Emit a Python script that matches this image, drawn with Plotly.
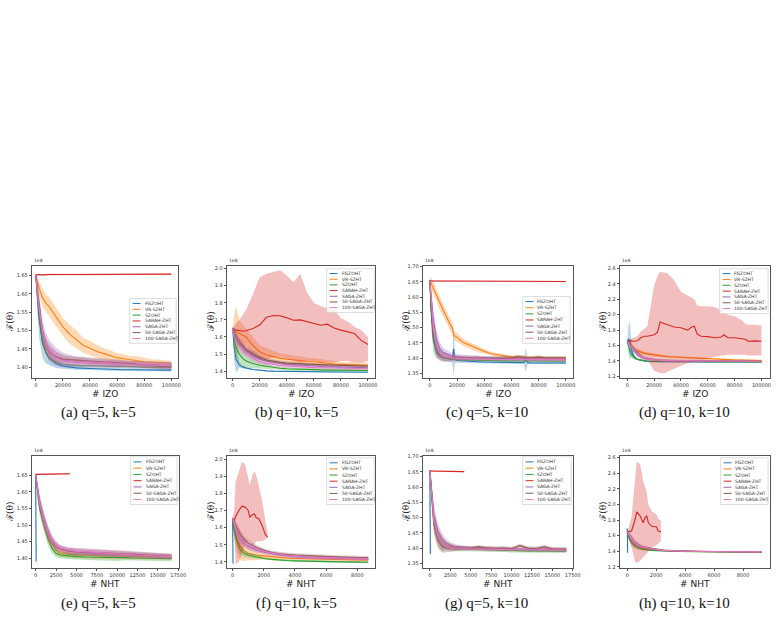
import plotly.graph_objects as go

W, H = 784, 621

NAMES = ["FGZOHT", "VR-SZHT", "SZOHT", "SARAH-ZHT", "SAGA-ZHT", "50-SAGA-ZHT", "100-SAGA-ZHT"]
COLORS = ["#1f77b4", "#ff7f0e", "#2ca02c", "#d62728", "#9467bd", "#8c564b", "#e377c2"]

# ---------------- tick labels ----------------
X_TICKS_IZO = [0, 20000, 40000, 60000, 80000, 100000]
X_TICKS_NHT_5 = [0, 2500, 5000, 7500, 10000, 12500, 15000, 17500]
X_TICKS_NHT_10 = [0, 2000, 4000, 6000, 8000]
Y_TICKS_A = [1.40, 1.45, 1.50, 1.55, 1.60, 1.65]
Y_TICKS_B = [1.4, 1.5, 1.6, 1.7, 1.8, 1.9, 2.0]
Y_TICKS_C = [1.35, 1.40, 1.45, 1.50, 1.55, 1.60, 1.65, 1.70]
Y_TICKS_D = [1.2, 1.4, 1.6, 1.8, 2.0, 2.2, 2.4, 2.6]

# ---------------- (a) q=5, k=5, IZO ----------------
X_TOP = [0, 1000, 2500, 5000, 7500, 10000, 15000, 20000, 25000, 30000, 35000, 40000,
         45000, 50000, 55000, 60000, 65000, 70000, 75000, 80000, 85000, 90000, 95000, 100000]
A_FG = [1.652, 1.60, 1.53, 1.465, 1.44, 1.425, 1.41, 1.403, 1.40, 1.398, 1.397, 1.396,
        1.395, 1.395, 1.394, 1.394, 1.393, 1.393, 1.393, 1.392, 1.392, 1.392, 1.392, 1.392]
A_FG_SD = [0.003, 0.04, 0.05, 0.04, 0.03, 0.02, 0.012, 0.008, 0.006, 0.005, 0.005, 0.004,
           0.004, 0.004, 0.004, 0.004, 0.004, 0.004, 0.004, 0.004, 0.004, 0.004, 0.004, 0.004]
A_VR = [1.652, 1.635, 1.615, 1.59, 1.575, 1.565, 1.537, 1.51, 1.49, 1.476, 1.46, 1.452,
        1.443, 1.437, 1.431, 1.426, 1.423, 1.42, 1.418, 1.415, 1.414, 1.413, 1.412, 1.411]
A_VR_SD = [0.003, 0.015, 0.02, 0.025, 0.025, 0.025, 0.025, 0.025, 0.025, 0.025, 0.02, 0.02,
           0.018, 0.015, 0.015, 0.012, 0.012, 0.01, 0.012, 0.01, 0.008, 0.008, 0.008, 0.006]
A_SZ = [1.652, 1.60, 1.54, 1.47, 1.44, 1.425, 1.413, 1.408, 1.406, 1.405, 1.404, 1.404,
        1.403, 1.403, 1.402, 1.402, 1.402, 1.401, 1.401, 1.401, 1.400, 1.400, 1.400, 1.400]
A_SZ_SD = [0.003, 0.01, 0.01, 0.008, 0.006, 0.005, 0.004, 0.003, 0.003, 0.003, 0.003, 0.003,
           0.003, 0.003, 0.003, 0.003, 0.003, 0.003, 0.003, 0.003, 0.003, 0.003, 0.003, 0.003]
A_SA = [1.652, 1.653, 1.653, 1.652, 1.653, 1.653, 1.653, 1.652, 1.653, 1.653, 1.653, 1.653,
        1.652, 1.653, 1.653, 1.653, 1.653, 1.653, 1.653, 1.654, 1.654, 1.654, 1.654, 1.654]
A_SA_SD = [0.002, 0.002, 0.002, 0.002, 0.002, 0.002, 0.002, 0.002, 0.002, 0.002, 0.002, 0.002,
           0.002, 0.002, 0.002, 0.002, 0.002, 0.002, 0.002, 0.002, 0.002, 0.002, 0.002, 0.002]
A_SG = [1.652, 1.62, 1.57, 1.50, 1.465, 1.445, 1.428, 1.42, 1.416, 1.414, 1.413, 1.412,
        1.411, 1.410, 1.409, 1.408, 1.408, 1.407, 1.407, 1.406, 1.406, 1.405, 1.405, 1.405]
A_SG_SD = [0.003, 0.02, 0.03, 0.03, 0.03, 0.03, 0.025, 0.02, 0.018, 0.015, 0.015, 0.012,
           0.012, 0.01, 0.01, 0.01, 0.01, 0.01, 0.01, 0.01, 0.01, 0.01, 0.01, 0.01]
A_50 = [1.652, 1.61, 1.555, 1.49, 1.458, 1.44, 1.428, 1.422, 1.42, 1.419, 1.418, 1.417,
        1.416, 1.415, 1.414, 1.412, 1.411, 1.41, 1.408, 1.406, 1.404, 1.403, 1.402, 1.401]
A_100 = [1.652, 1.615, 1.56, 1.495, 1.462, 1.443, 1.425, 1.418, 1.415, 1.414, 1.413, 1.412,
         1.411, 1.41, 1.409, 1.408, 1.408, 1.407, 1.406, 1.406, 1.405, 1.405, 1.404, 1.404]
A_50_SD = [0.003, 0.02, 0.02, 0.02, 0.02, 0.02, 0.015, 0.012, 0.01, 0.01, 0.01, 0.01,
           0.01, 0.01, 0.01, 0.01, 0.008, 0.008, 0.008, 0.008, 0.008, 0.008, 0.008, 0.008]

# ---------------- (b) q=10, k=5, IZO ----------------
B_FG = [1.652, 1.55, 1.47, 1.435, 1.425, 1.418, 1.41, 1.405, 1.402, 1.400, 1.399, 1.398,
        1.397, 1.397, 1.396, 1.396, 1.396, 1.395, 1.395, 1.395, 1.395, 1.394, 1.394, 1.394]
B_FG_SD = [0.003, 0.08, 0.08, 0.015, 0.006, 0.005, 0.004, 0.003, 0.003, 0.003, 0.003, 0.003,
           0.003, 0.003, 0.003, 0.003, 0.003, 0.003, 0.003, 0.003, 0.003, 0.003, 0.003, 0.003]
B_VR = [1.652, 1.645, 1.63, 1.62, 1.61, 1.60, 1.55, 1.513, 1.495, 1.485, 1.475, 1.47,
        1.465, 1.462, 1.458, 1.455, 1.45, 1.445, 1.442, 1.44, 1.438, 1.437, 1.436, 1.435]
B_VR_SD = [0.003, 0.08, 0.15, 0.08, 0.06, 0.05, 0.05, 0.04, 0.04, 0.035, 0.03, 0.03,
           0.025, 0.025, 0.02, 0.02, 0.02, 0.02, 0.015, 0.015, 0.015, 0.015, 0.015, 0.015]
B_SZ = [1.652, 1.60, 1.54, 1.50, 1.475, 1.46, 1.445, 1.435, 1.428, 1.42, 1.417, 1.414,
        1.412, 1.41, 1.409, 1.408, 1.407, 1.406, 1.406, 1.405, 1.405, 1.404, 1.404, 1.404]
B_SZ_SD = [0.003, 0.04, 0.06, 0.06, 0.05, 0.04, 0.03, 0.02, 0.015, 0.01, 0.01, 0.008,
           0.008, 0.008, 0.008, 0.006, 0.006, 0.006, 0.006, 0.006, 0.006, 0.006, 0.006, 0.006]
B_SA = [1.652, 1.648, 1.64, 1.638, 1.634, 1.636, 1.65, 1.67, 1.715, 1.726, 1.724, 1.712,
        1.698, 1.70, 1.69, 1.678, 1.669, 1.675, 1.652, 1.64, 1.63, 1.62, 1.58, 1.556]
B_SA_LO = [1.65, 1.64, 1.60, 1.58, 1.55, 1.52, 1.48, 1.47, 1.47, 1.48, 1.48, 1.47,
           1.46, 1.45, 1.46, 1.46, 1.45, 1.45, 1.45, 1.46, 1.46, 1.45, 1.45, 1.46]
B_SA_HI = [1.655, 1.66, 1.68, 1.70, 1.73, 1.76, 1.85, 1.95, 1.97, 1.98, 1.99, 1.96,
           1.92, 1.97, 1.86, 1.80, 1.78, 1.77, 1.76, 1.71, 1.69, 1.66, 1.64, 1.60]
B_SG = [1.652, 1.62, 1.59, 1.56, 1.535, 1.515, 1.49, 1.47, 1.458, 1.45, 1.445, 1.44,
        1.437, 1.434, 1.432, 1.43, 1.428, 1.426, 1.425, 1.424, 1.423, 1.422, 1.421, 1.42]
B_50 = [1.652, 1.63, 1.60, 1.57, 1.545, 1.525, 1.50, 1.48, 1.465, 1.457, 1.452, 1.448,
        1.445, 1.443, 1.441, 1.44, 1.438, 1.436, 1.435, 1.434, 1.433, 1.432, 1.431, 1.43]
B_100 = [1.652, 1.61, 1.575, 1.545, 1.52, 1.50, 1.475, 1.455, 1.445, 1.438, 1.433, 1.43,
         1.427, 1.425, 1.423, 1.421, 1.42, 1.419, 1.418, 1.417, 1.416, 1.415, 1.415, 1.414]
B_SG_SD = [0.003, 0.02, 0.025, 0.025, 0.025, 0.02, 0.02, 0.015, 0.012, 0.012, 0.01, 0.01,
           0.01, 0.01, 0.008, 0.008, 0.008, 0.008, 0.008, 0.008, 0.008, 0.008, 0.008, 0.008]

# ---------------- (c) q=5, k=10, IZO ----------------
X_C = [0, 1000, 2500, 5000, 7500, 10000, 15000, 16500, 17500, 18500, 20000, 25000, 30000,
       35000, 40000, 45000, 50000, 55000, 60000, 65000, 69000, 70500, 72000, 75000, 80000,
       85000, 90000, 95000, 100000]
C_FG = [1.655, 1.56, 1.47, 1.425, 1.41, 1.402, 1.396, 1.395, 1.43, 1.395, 1.392, 1.39, 1.389,
        1.388, 1.387, 1.387, 1.386, 1.386, 1.385, 1.385, 1.385, 1.395, 1.385, 1.384, 1.384,
        1.384, 1.384, 1.384, 1.384]
C_FG_SD = [0.02, 0.06, 0.05, 0.025, 0.015, 0.012, 0.01, 0.01, 0.09, 0.01, 0.006, 0.005, 0.005,
           0.005, 0.004, 0.004, 0.004, 0.004, 0.004, 0.004, 0.004, 0.04, 0.004, 0.004, 0.004,
           0.004, 0.004, 0.004, 0.004]
C_VR = [1.655, 1.645, 1.63, 1.605, 1.575, 1.555, 1.51, 1.50, 1.475, 1.472, 1.468, 1.45, 1.44,
        1.43, 1.422, 1.414, 1.41, 1.406, 1.404, 1.403, 1.402, 1.402, 1.402, 1.401, 1.401,
        1.401, 1.400, 1.400, 1.400]
C_VR_SD = [0.003, 0.02, 0.02, 0.02, 0.02, 0.02, 0.02, 0.02, 0.015, 0.015, 0.015, 0.012, 0.01,
           0.01, 0.008, 0.006, 0.006, 0.005, 0.005, 0.005, 0.005, 0.005, 0.005, 0.005, 0.005,
           0.005, 0.005, 0.005, 0.005]
C_SZ = [1.655, 1.55, 1.46, 1.415, 1.405, 1.40, 1.397, 1.397, 1.396, 1.396, 1.395, 1.394, 1.393,
        1.393, 1.392, 1.392, 1.391, 1.391, 1.391, 1.39, 1.39, 1.39, 1.39, 1.39, 1.39,
        1.39, 1.39, 1.39, 1.39]
C_SZ_SD = [0.003, 0.003, 0.003, 0.003, 0.003, 0.003, 0.003, 0.003, 0.003, 0.003, 0.003, 0.003,
           0.003, 0.003, 0.003, 0.003, 0.003, 0.003, 0.003, 0.003, 0.003, 0.003, 0.003, 0.003,
           0.003, 0.003, 0.003, 0.003, 0.003]
C_SA = [1.653, 1.653, 1.653, 1.652, 1.653, 1.653, 1.653, 1.652, 1.653, 1.653, 1.653, 1.653,
        1.652, 1.653, 1.653, 1.653, 1.652, 1.652, 1.652, 1.652, 1.652, 1.652, 1.652, 1.652,
        1.652, 1.651, 1.651, 1.651, 1.651]
C_SA_SD = [0.002, 0.002, 0.002, 0.002, 0.002, 0.002, 0.002, 0.002, 0.002, 0.002, 0.002, 0.002,
           0.002, 0.002, 0.002, 0.002, 0.002, 0.002, 0.002, 0.002, 0.002, 0.002, 0.002, 0.002,
           0.002, 0.002, 0.002, 0.002, 0.002]
C_SG = [1.655, 1.60, 1.53, 1.46, 1.43, 1.418, 1.408, 1.406, 1.405, 1.405, 1.404, 1.402, 1.401,
        1.40, 1.40, 1.399, 1.399, 1.398, 1.398, 1.398, 1.397, 1.397, 1.397, 1.397, 1.396,
        1.396, 1.396, 1.396, 1.396]
C_50 = [1.655, 1.56, 1.48, 1.43, 1.41, 1.403, 1.40, 1.40, 1.40, 1.40, 1.40, 1.40, 1.40,
        1.401, 1.40, 1.399, 1.40, 1.401, 1.40, 1.405, 1.402, 1.40, 1.40, 1.401, 1.403,
        1.40, 1.401, 1.40, 1.40]
C_100 = [1.655, 1.58, 1.50, 1.44, 1.415, 1.405, 1.40, 1.399, 1.399, 1.398, 1.398, 1.397, 1.397,
         1.396, 1.396, 1.396, 1.396, 1.395, 1.395, 1.395, 1.395, 1.395, 1.395, 1.395, 1.395,
         1.395, 1.394, 1.394, 1.394]
C_SG_SD = [0.003, 0.02, 0.03, 0.03, 0.02, 0.015, 0.01, 0.01, 0.01, 0.01, 0.008, 0.008, 0.007,
           0.007, 0.006, 0.006, 0.006, 0.006, 0.006, 0.006, 0.006, 0.006, 0.006, 0.006, 0.006,
           0.006, 0.006, 0.006, 0.006]

# ---------------- (d) q=10, k=10, IZO ----------------
X_D = [0, 1000, 2000, 3000, 5000, 7500, 10000, 12500, 15000, 20000, 22500, 24500, 27500, 30000,
       35000, 40000, 45000, 48000, 50000, 52000, 55000, 60000, 65000, 70000, 72000, 75000,
       80000, 85000, 88000, 90000, 95000, 100000]
D_FG = [1.65, 1.68, 1.66, 1.55, 1.45, 1.42, 1.405, 1.398, 1.393, 1.39, 1.389, 1.388, 1.388,
        1.387, 1.387, 1.386, 1.386, 1.386, 1.386, 1.385, 1.385, 1.385, 1.385, 1.385, 1.385,
        1.385, 1.385, 1.385, 1.385, 1.385, 1.385, 1.385]
D_FG_SD = [0.003, 0.2, 0.25, 0.1, 0.03, 0.01, 0.006, 0.005, 0.004, 0.004, 0.004, 0.004, 0.004,
           0.004, 0.004, 0.004, 0.004, 0.004, 0.004, 0.004, 0.004, 0.004, 0.004, 0.004, 0.004,
           0.004, 0.004, 0.004, 0.004, 0.004, 0.004, 0.004]
D_VR = [1.65, 1.64, 1.62, 1.60, 1.56, 1.53, 1.51, 1.50, 1.49, 1.475, 1.47, 1.465, 1.46, 1.455,
        1.45, 1.445, 1.44, 1.437, 1.435, 1.433, 1.43, 1.425, 1.42, 1.418, 1.417, 1.415,
        1.412, 1.41, 1.408, 1.407, 1.405, 1.403]
D_VR_SD = [0.003, 0.02, 0.03, 0.03, 0.03, 0.03, 0.025, 0.02, 0.02, 0.02, 0.018, 0.018, 0.016,
           0.015, 0.015, 0.014, 0.013, 0.012, 0.012, 0.012, 0.012, 0.011, 0.011, 0.01, 0.01,
           0.01, 0.01, 0.01, 0.01, 0.01, 0.01, 0.01]
D_SZ = [1.65, 1.58, 1.53, 1.49, 1.45, 1.42, 1.41, 1.402, 1.398, 1.393, 1.392, 1.391, 1.39,
        1.39, 1.389, 1.388, 1.388, 1.387, 1.387, 1.387, 1.387, 1.386, 1.386, 1.386, 1.386,
        1.386, 1.385, 1.385, 1.385, 1.385, 1.385, 1.385]
D_SZ_SD = [0.003, 0.04, 0.05, 0.04, 0.03, 0.015, 0.01, 0.008, 0.005, 0.005, 0.005, 0.005,
           0.005, 0.005, 0.005, 0.005, 0.005, 0.005, 0.005, 0.005, 0.005, 0.005, 0.005, 0.005,
           0.005, 0.005, 0.005, 0.005, 0.005, 0.005, 0.005, 0.005]
D_SA = [1.645, 1.655, 1.66, 1.66, 1.655, 1.66, 1.70, 1.72, 1.72, 1.74, 1.77, 1.905, 1.89,
        1.87, 1.84, 1.83, 1.80, 1.84, 1.85, 1.75, 1.72, 1.715, 1.70, 1.71, 1.74, 1.70,
        1.70, 1.685, 1.68, 1.655, 1.66, 1.655]
D_SA_HI = [1.65, 1.67, 1.68, 1.69, 1.70, 1.72, 1.78, 1.81, 1.85, 2.38, 2.50, 2.56, 2.55,
           2.54, 2.45, 2.30, 2.25, 2.22, 2.20, 2.12, 2.11, 2.11, 2.10, 2.06, 2.02, 2.00,
           1.98, 1.93, 1.88, 1.87, 1.87, 1.86]
D_SA_LO = [1.64, 1.64, 1.62, 1.60, 1.55, 1.50, 1.47, 1.45, 1.42, 1.27, 1.25, 1.24, 1.24,
           1.26, 1.29, 1.33, 1.37, 1.38, 1.38, 1.39, 1.40, 1.42, 1.45, 1.47, 1.47, 1.48,
           1.48, 1.48, 1.48, 1.47, 1.47, 1.47]
D_SG = [1.65, 1.63, 1.61, 1.58, 1.53, 1.48, 1.45, 1.43, 1.42, 1.41, 1.405, 1.403, 1.402,
        1.401, 1.40, 1.399, 1.398, 1.398, 1.397, 1.397, 1.396, 1.395, 1.395, 1.394, 1.394,
        1.394, 1.393, 1.393, 1.393, 1.393, 1.392, 1.392]
D_50 = [1.65, 1.635, 1.62, 1.595, 1.55, 1.50, 1.465, 1.44, 1.43, 1.415, 1.41, 1.408, 1.406,
        1.405, 1.404, 1.403, 1.402, 1.401, 1.401, 1.40, 1.40, 1.399, 1.398, 1.398, 1.397,
        1.397, 1.396, 1.396, 1.395, 1.395, 1.395, 1.394]
D_100 = [1.65, 1.63, 1.615, 1.585, 1.54, 1.49, 1.455, 1.435, 1.425, 1.412, 1.407, 1.405, 1.404,
         1.403, 1.402, 1.401, 1.40, 1.40, 1.399, 1.399, 1.398, 1.398, 1.397, 1.397, 1.396,
         1.396, 1.395, 1.395, 1.395, 1.394, 1.394, 1.394]
D_SG_SD = [0.003, 0.02, 0.03, 0.03, 0.03, 0.03, 0.025, 0.02, 0.015, 0.012, 0.01, 0.01, 0.01,
           0.01, 0.01, 0.01, 0.01, 0.01, 0.01, 0.01, 0.01, 0.01, 0.01, 0.01, 0.01,
           0.01, 0.01, 0.01, 0.01, 0.01, 0.01, 0.01]

# ---------------- (e) q=5, k=5, NHT ----------------
X_E = [0, 250, 500, 1000, 1500, 2000, 2500, 3000, 4000, 5000, 6000, 7000, 8000, 9000, 10000,
       11000, 12000, 13000, 14000, 15000, 16000, 16700]
E_FG_X = [0, 20, 40, 60]
E_FG = [1.652, 1.55, 1.45, 1.39]
E_FG_SD = [0.002, 0.004, 0.004, 0.003]
E_VR = [1.652, 1.60, 1.56, 1.51, 1.47, 1.445, 1.425, 1.415, 1.412, 1.41, 1.41, 1.408, 1.408,
        1.407, 1.406, 1.406, 1.405, 1.405, 1.405, 1.404, 1.404, 1.404]
E_SZ = [1.652, 1.59, 1.55, 1.50, 1.46, 1.43, 1.415, 1.41, 1.407, 1.405, 1.404, 1.404, 1.403,
        1.403, 1.402, 1.402, 1.401, 1.401, 1.40, 1.40, 1.399, 1.399]
E_SA_X = [0, 1000, 2000, 3000, 4200]
E_SA = [1.653, 1.653, 1.654, 1.654, 1.655]
E_SA_SD = [0.002, 0.002, 0.002, 0.002, 0.002]
E_SG = [1.652, 1.61, 1.57, 1.52, 1.48, 1.455, 1.44, 1.43, 1.422, 1.418, 1.416, 1.415, 1.414,
        1.413, 1.412, 1.411, 1.41, 1.409, 1.408, 1.407, 1.406, 1.405]
E_50 = [1.652, 1.60, 1.56, 1.515, 1.475, 1.45, 1.435, 1.428, 1.422, 1.42, 1.419, 1.418, 1.418,
        1.417, 1.416, 1.415, 1.413, 1.411, 1.41, 1.408, 1.407, 1.406]
E_100 = [1.652, 1.605, 1.565, 1.515, 1.478, 1.452, 1.438, 1.43, 1.425, 1.421, 1.42, 1.418,
         1.416, 1.415, 1.413, 1.412, 1.41, 1.409, 1.408, 1.407, 1.406, 1.405]
E_SD = [0.003, 0.02, 0.02, 0.02, 0.02, 0.015, 0.012, 0.01, 0.01, 0.01, 0.01, 0.01, 0.01,
        0.01, 0.01, 0.008, 0.008, 0.008, 0.008, 0.008, 0.008, 0.008]

# ---------------- (f) q=10, k=5, NHT ----------------
X_F = [0, 100, 250, 500, 750, 1000, 1500, 2000, 2500, 3000, 3500, 4000, 5000, 6000, 7000,
       8000, 8700]
F_FG_X = [0, 15, 30]
F_FG = [1.652, 1.52, 1.39]
F_FG_SD = [0.002, 0.004, 0.003]
F_VR = [1.652, 1.60, 1.54, 1.49, 1.465, 1.45, 1.44, 1.435, 1.43, 1.425, 1.422, 1.42, 1.417,
        1.415, 1.413, 1.412, 1.411]
F_VR_SD = [0.003, 0.05, 0.08, 0.08, 0.06, 0.04, 0.03, 0.02, 0.015, 0.01, 0.01, 0.01, 0.01,
           0.01, 0.01, 0.01, 0.01]
F_SZ = [1.652, 1.58, 1.53, 1.47, 1.45, 1.44, 1.43, 1.42, 1.415, 1.41, 1.408, 1.406, 1.403,
        1.401, 1.40, 1.399, 1.398]
F_SZ_SD = [0.003, 0.04, 0.04, 0.03, 0.02, 0.015, 0.01, 0.008, 0.006, 0.006, 0.006, 0.006,
           0.006, 0.006, 0.006, 0.006, 0.006]
F_SA_X = [0, 100, 200, 400, 600, 800, 1000, 1100, 1250, 1400, 1500, 1700, 1900, 2100, 2250]
F_SA = [1.652, 1.64, 1.665, 1.70, 1.725, 1.72, 1.70, 1.66, 1.675, 1.68, 1.66, 1.65, 1.61,
        1.56, 1.545]
F_SA_HI = [1.655, 1.70, 1.87, 1.93, 1.985, 1.97, 1.88, 1.85, 1.90, 1.93, 1.91, 1.84, 1.75,
           1.65, 1.56]
F_SA_LO = [1.65, 1.60, 1.39, 1.40, 1.45, 1.50, 1.52, 1.52, 1.50, 1.50, 1.52, 1.52, 1.52,
           1.53, 1.54]
F_SG = [1.652, 1.62, 1.58, 1.53, 1.505, 1.49, 1.47, 1.458, 1.448, 1.44, 1.435, 1.43, 1.425,
        1.422, 1.42, 1.418, 1.417]
F_50 = [1.652, 1.63, 1.60, 1.56, 1.53, 1.51, 1.485, 1.468, 1.455, 1.448, 1.443, 1.44, 1.435,
        1.43, 1.428, 1.426, 1.425]
F_100 = [1.652, 1.625, 1.585, 1.54, 1.51, 1.495, 1.475, 1.46, 1.45, 1.443, 1.437, 1.432,
         1.427, 1.423, 1.421, 1.419, 1.418]
F_SG_SD = [0.003, 0.03, 0.03, 0.025, 0.02, 0.02, 0.015, 0.012, 0.01, 0.01, 0.01, 0.01, 0.01,
           0.01, 0.01, 0.01, 0.01]

# ---------------- (g) q=5, k=10, NHT ----------------
X_G = [0, 250, 500, 1000, 1500, 2000, 2500, 3000, 4000, 5000, 6000, 7000, 8000, 9000, 10000,
       11000, 12000, 13000, 14000, 15000, 16000, 16700]
G_FG_X = [0, 20, 40, 60]
G_FG = [1.655, 1.55, 1.45, 1.38]
G_FG_SD = [0.002, 0.004, 0.004, 0.003]
G_VR = [1.655, 1.56, 1.49, 1.44, 1.42, 1.41, 1.405, 1.402, 1.40, 1.399, 1.398, 1.397, 1.396,
        1.396, 1.395, 1.395, 1.394, 1.394, 1.394, 1.393, 1.393, 1.393]
G_SZ = [1.655, 1.55, 1.48, 1.43, 1.41, 1.405, 1.40, 1.398, 1.397, 1.396, 1.395, 1.394, 1.393,
        1.393, 1.392, 1.392, 1.391, 1.391, 1.391, 1.39, 1.39, 1.39]
G_SA_X = [0, 1000, 2000, 3000, 4200]
G_SA = [1.653, 1.653, 1.652, 1.652, 1.651]
G_SA_SD = [0.002, 0.002, 0.002, 0.002, 0.002]
G_SG = [1.655, 1.58, 1.51, 1.455, 1.43, 1.418, 1.41, 1.406, 1.403, 1.401, 1.40, 1.399, 1.398,
        1.398, 1.397, 1.397, 1.396, 1.396, 1.396, 1.395, 1.395, 1.395]
G_50 = [1.655, 1.55, 1.475, 1.425, 1.405, 1.40, 1.398, 1.398, 1.399, 1.40, 1.404, 1.40, 1.399,
        1.40, 1.398, 1.408, 1.40, 1.399, 1.404, 1.398, 1.397, 1.397]
G_100 = [1.655, 1.565, 1.49, 1.438, 1.415, 1.405, 1.401, 1.399, 1.398, 1.397, 1.397, 1.396,
         1.396, 1.396, 1.395, 1.395, 1.395, 1.394, 1.394, 1.394, 1.394, 1.394]
G_SD = [0.003, 0.02, 0.03, 0.025, 0.02, 0.012, 0.01, 0.008, 0.006, 0.006, 0.006, 0.006, 0.006,
        0.006, 0.006, 0.006, 0.006, 0.006, 0.006, 0.006, 0.006, 0.006]

# ---------------- (h) q=10, k=10, NHT ----------------
X_H = [0, 100, 250, 500, 750, 1000, 1500, 2000, 2500, 3000, 3500, 4000, 5000, 6000, 7000,
       8000, 9300]
H_FG_X = [0, 10, 20, 30]
H_FG = [1.65, 1.69, 1.50, 1.38]
H_FG_SD = [0.002, 0.004, 0.004, 0.003]
H_VR = [1.65, 1.60, 1.55, 1.49, 1.46, 1.44, 1.425, 1.415, 1.408, 1.403, 1.40, 1.398, 1.395,
        1.393, 1.392, 1.391, 1.39]
H_SZ = [1.65, 1.58, 1.52, 1.47, 1.445, 1.43, 1.415, 1.408, 1.403, 1.40, 1.398, 1.396, 1.393,
        1.391, 1.39, 1.389, 1.388]
H_SA_X = [0, 100, 300, 550, 660, 900, 1100, 1230, 1350, 1460, 1700, 2030, 2140, 2325]
H_SA = [1.645, 1.65, 1.66, 1.81, 1.905, 1.85, 1.765, 1.83, 1.85, 1.765, 1.72, 1.71, 1.66, 1.65]
H_SA_HI = [1.65, 1.70, 1.85, 2.35, 2.55, 2.51, 2.30, 2.22, 2.15, 2.00, 1.91, 1.87, 1.82, 1.79]
H_SA_LO = [1.64, 1.60, 1.45, 1.26, 1.255, 1.28, 1.33, 1.36, 1.38, 1.40, 1.45, 1.48, 1.50, 1.53]
H_SG = [1.65, 1.61, 1.57, 1.51, 1.475, 1.455, 1.435, 1.42, 1.41, 1.405, 1.402, 1.40, 1.397,
        1.395, 1.394, 1.393, 1.392]
H_50 = [1.65, 1.62, 1.58, 1.52, 1.485, 1.46, 1.44, 1.425, 1.415, 1.408, 1.404, 1.402, 1.399,
        1.397, 1.395, 1.394, 1.393]
H_100 = [1.65, 1.615, 1.575, 1.515, 1.48, 1.458, 1.437, 1.422, 1.412, 1.406, 1.403, 1.401,
         1.398, 1.396, 1.395, 1.394, 1.393]
H_SD = [0.003, 0.03, 0.04, 0.03, 0.025, 0.02, 0.015, 0.01, 0.008, 0.008, 0.008, 0.008, 0.008,
        0.008, 0.008, 0.008, 0.008]


def S(x, m, sd=None, lo=None, hi=None):
    if lo is None:
        lo = [a - b for a, b in zip(m, sd)]
        hi = [a + b for a, b in zip(m, sd)]
    if not (len(x) == len(m) == len(lo) == len(hi)):
        raise ValueError(f"length mismatch {len(x)} {len(m)} {len(lo)} {len(hi)} starting {m[:3]}")
    return (x, m, lo, hi)


PANELS = [
    dict(box=(32, 265, 180, 378), xr=(-3000, 105000), yr=(1.370, 1.677),
         xt=X_TICKS_IZO, yt=Y_TICKS_A, ydec=2, xtitle="# IZO", ytx=10,
         cap="(a) q=5, k=5", capx=100, capy=412, leg=(131, 298, 178, 343),
         series=[S(X_TOP, A_FG, A_FG_SD), S(X_TOP, A_VR, A_VR_SD), S(X_TOP, A_SZ, A_SZ_SD),
                 S(X_TOP, A_SA, A_SA_SD), S(X_TOP, A_SG, A_SG_SD), S(X_TOP, A_50, A_50_SD),
                 S(X_TOP, A_100, A_50_SD)]),
    dict(box=(229, 265, 379, 378), xr=(-4400, 105300), yr=(1.359, 2.017),
         xt=X_TICKS_IZO, yt=Y_TICKS_B, ydec=1, xtitle="# IZO", ytx=213,
         cap="(b) q=10, k=5", capx=300, capy=412, leg=(330, 268, 378, 312),
         series=[S(X_TOP, B_FG, B_FG_SD), S(X_TOP, B_VR, B_VR_SD), S(X_TOP, B_SZ, B_SZ_SD),
                 S(X_TOP, B_SA, lo=B_SA_LO, hi=B_SA_HI), S(X_TOP, B_SG, B_SG_SD),
                 S(X_TOP, B_50, B_SG_SD), S(X_TOP, B_100, B_SG_SD)]),
    dict(box=(427, 265, 579, 378), xr=(-5300, 105300), yr=(1.334, 1.703),
         xt=X_TICKS_IZO, yt=Y_TICKS_C, ydec=2, xtitle="# IZO", ytx=410,
         cap="(c) q=5, k=10", capx=492, capy=412, leg=(528, 296, 576, 343),
         series=[S(X_C, C_FG, C_FG_SD), S(X_C, C_VR, C_VR_SD), S(X_C, C_SZ, C_SZ_SD),
                 S(X_C, C_SA, C_SA_SD), S(X_C, C_SG, C_SG_SD), S(X_C, C_50, C_SG_SD),
                 S(X_C, C_100, C_SG_SD)]),
    dict(box=(626, 265, 778, 378), xr=(-5700, 106400), yr=(1.174, 2.638),
         xt=X_TICKS_IZO, yt=Y_TICKS_D, ydec=1, xtitle="# IZO", ytx=609,
         cap="(d) q=10, k=10", capx=692, capy=412, leg=(727, 268, 776, 313),
         series=[S(X_D, D_FG, D_FG_SD), S(X_D, D_VR, D_VR_SD), S(X_D, D_SZ, D_SZ_SD),
                 S(X_D, D_SA, lo=D_SA_LO, hi=D_SA_HI), S(X_D, D_SG, D_SG_SD),
                 S(X_D, D_50, D_SG_SD), S(X_D, D_100, D_SG_SD)]),
    dict(box=(32, 456, 181, 569), xr=(-490, 17620), yr=(1.370, 1.709),
         xt=X_TICKS_NHT_5, yt=Y_TICKS_A, ydec=2, xtitle="# NHT", ytx=10,
         cap="(e) q=5, k=5", capx=100, capy=604, leg=(132, 457, 179, 505),
         series=[S(E_FG_X, E_FG, E_FG_SD), S(X_E, E_VR, E_SD), S(X_E, E_SZ, E_SD),
                 S(E_SA_X, E_SA, E_SA_SD), S(X_E, E_SG, E_SD), S(X_E, E_50, E_SD),
                 S(X_E, E_100, E_SD)]),
    dict(box=(229, 456, 379, 569), xr=(-380, 9140), yr=(1.363, 2.019),
         xt=X_TICKS_NHT_10, yt=Y_TICKS_B, ydec=1, xtitle="# NHT", ytx=213,
         cap="(f) q=10, k=5", capx=300, capy=604, leg=(330, 458, 378, 505),
         series=[S(F_FG_X, F_FG, F_FG_SD), S(X_F, F_VR, F_VR_SD), S(X_F, F_SZ, F_SZ_SD),
                 S(F_SA_X, F_SA, lo=F_SA_LO, hi=F_SA_HI), S(X_F, F_SG, F_SG_SD),
                 S(X_F, F_50, F_SG_SD), S(X_F, F_100, F_SG_SD)]),
    dict(box=(427, 456, 579, 569), xr=(-885, 17540), yr=(1.334, 1.703),
         xt=X_TICKS_NHT_5, yt=Y_TICKS_C, ydec=2, xtitle="# NHT", ytx=410,
         cap="(g) q=5, k=10", capx=492, capy=604, leg=(528, 457, 577, 505),
         series=[S(G_FG_X, G_FG, G_FG_SD), S(X_G, G_VR, G_SD), S(X_G, G_SZ, G_SD),
                 S(G_SA_X, G_SA, G_SA_SD), S(X_G, G_SG, G_SD), S(X_G, G_50, G_SD),
                 S(X_G, G_100, G_SD)]),
    dict(box=(626, 456, 778, 569), xr=(-526, 9870), yr=(1.183, 2.622),
         xt=X_TICKS_NHT_10, yt=Y_TICKS_D, ydec=1, xtitle="# NHT", ytx=609,
         cap="(h) q=10, k=10", capx=692, capy=604, leg=(728, 458, 776, 505),
         series=[S(H_FG_X, H_FG, H_FG_SD), S(X_H, H_VR, H_SD), S(X_H, H_SZ, H_SD),
                 S(H_SA_X, H_SA, lo=H_SA_LO, hi=H_SA_HI), S(X_H, H_SG, H_SD),
                 S(X_H, H_50, H_SD), S(X_H, H_100, H_SD)]),
]


def rgba(hexc, a):
    h = hexc.lstrip("#")
    return f"rgba({int(h[0:2], 16)},{int(h[2:4], 16)},{int(h[4:6], 16)},{a})"


def fx(p):
    return p / W


def fy(p):
    return 1 - p / H


fig = go.Figure()
layout = {}
shapes = []
annotations = []
TICKFONT = dict(size=5, color="#333", family="DejaVu Sans")
FRAME = "#555"

for k, P in enumerate(PANELS, start=1):
    sfx = "" if k == 1 else str(k)
    xa, ya = "x" + sfx, "y" + sfx
    for (x, m, lo, hi), col, name in zip(P["series"], COLORS, NAMES):
        fig.add_trace(go.Scatter(
            x=list(x) + list(x)[::-1], y=list(hi) + list(lo)[::-1],
            fill="toself", fillcolor=rgba(col, 0.3), line=dict(width=0),
            mode="lines", hoverinfo="skip", showlegend=False, xaxis=xa, yaxis=ya))
        fig.add_trace(go.Scatter(
            x=x, y=m, mode="lines", line=dict(color=col, width=1.1),
            name=name, showlegend=False, xaxis=xa, yaxis=ya))

    l, t, r, b = P["box"]
    axis_common = dict(showline=True, mirror=True, linecolor=FRAME, linewidth=0.8,
                       ticks="outside", ticklen=2, tickwidth=0.6, tickcolor=FRAME,
                       tickfont=TICKFONT, showgrid=False, zeroline=False, fixedrange=True)
    layout["xaxis" + sfx] = dict(domain=[fx(l), fx(r)], range=list(P["xr"]), anchor=ya,
                                 tickvals=P["xt"], ticktext=[str(v) for v in P["xt"]],
                                 **axis_common)
    layout["yaxis" + sfx] = dict(domain=[fy(b), fy(t)], range=list(P["yr"]), anchor=xa,
                                 tickvals=P["yt"],
                                 ticktext=[f"{v:.{P['ydec']}f}" for v in P["yt"]],
                                 **axis_common)

    # offset text "1e8"
    annotations.append(dict(x=fx(l), y=fy(t - 1), xref="paper", yref="paper", text="1e8",
                            showarrow=False, xanchor="left", yanchor="bottom",
                            font=dict(size=4.5, color="#333", family="DejaVu Sans")))
    # x title
    annotations.append(dict(x=fx((l + r) / 2), y=fy(b + 16), xref="paper", yref="paper",
                            text=P["xtitle"], showarrow=False, xanchor="center",
                            yanchor="middle",
                            font=dict(size=9, color="#222", family="DejaVu Sans")))
    # y title
    annotations.append(dict(x=fx(P["ytx"]), y=fy((t + b) / 2), xref="paper", yref="paper",
                            text="ℱ(θ)", showarrow=False, textangle=-90,
                            xanchor="center", yanchor="middle",
                            font=dict(size=9, color="#222", family="DejaVu Serif")))
    # caption
    annotations.append(dict(x=fx(P["capx"]), y=fy(P["capy"]), xref="paper", yref="paper",
                            text=P["cap"], showarrow=False, xanchor="center",
                            yanchor="middle",
                            font=dict(size=15, color="#111", family="Liberation Serif")))
    # legend
    lx0, ly0, lx1, ly1 = P["leg"]
    shapes.append(dict(type="rect", xref="paper", yref="paper", x0=fx(lx0), x1=fx(lx1),
                       y0=fy(ly1), y1=fy(ly0), fillcolor="rgba(255,255,255,0.8)",
                       line=dict(color="#d0d0d0", width=0.7), layer="above"))
    rowh = (ly1 - ly0 - 4) / 7.0
    for i, (col, name) in enumerate(zip(COLORS, NAMES)):
        cy = ly0 + 2 + (i + 0.5) * rowh
        shapes.append(dict(type="line", xref="paper", yref="paper", x0=fx(lx0 + 3),
                           x1=fx(lx0 + 11), y0=fy(cy), y1=fy(cy),
                           line=dict(color=col, width=1), layer="above"))
        annotations.append(dict(x=fx(lx0 + 13), y=fy(cy), xref="paper", yref="paper",
                                text=name, showarrow=False, xanchor="left",
                                yanchor="middle",
                                font=dict(size=4.5, color="#333", family="DejaVu Sans")))

fig.update_layout(
    width=W, height=H, margin=dict(l=0, r=0, t=0, b=0),
    paper_bgcolor="white", plot_bgcolor="white", showlegend=False,
    shapes=shapes, annotations=annotations, **layout)

fig.write_html("out.html", config={"displayModeBar": False})
